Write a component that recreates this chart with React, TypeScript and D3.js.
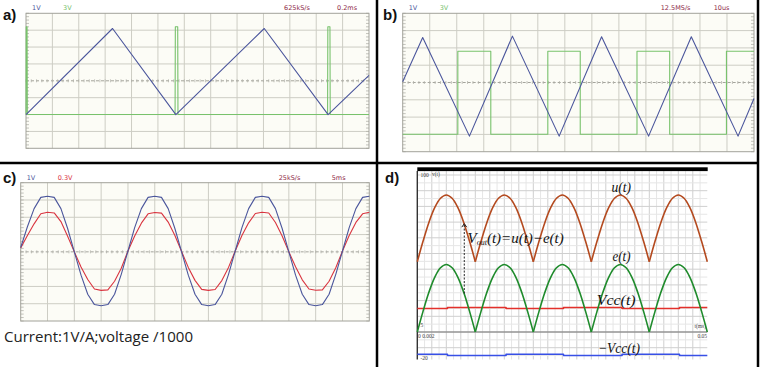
import React, { useEffect, useRef } from 'react';
import * as d3 from 'd3';

// all scope traces are in screen divisions: 13 across, 8 high (0 = trace ground)

// a) triangle on ch1 (1V/div), sync pulses on ch2 (3V/div)
const aTriT = [0, 3.28, 5.68, 9.03, 11.45, 13];
const aTriV = [0, 5.1, 0, 5.1, 0, 2.32];
const aPulseT = [0, 0.01, 0.04, 0.05, 5.65, 5.66, 5.75, 5.76, 11.43, 11.44, 11.52, 11.53, 13];
const aPulseV = [0, 5.2, 5.2, 0, 0, 5.2, 5.2, 0, 0, 5.2, 5.2, 0, 0];
const aHead = ['1V', '3V', '625kS/s', '0.2ms'];

// b) triangle + comparator square wave
const bTriT = [0, 0.74, 2.47, 4.06, 5.79, 7.36, 9.1, 10.68, 12.41, 13];
const bTriV = [0.04, 2.6, -3.1, 2.68, -3.1, 2.64, -3.1, 2.64, -3.1, -0.92];
const bSqT = [0, 2.04, 3.26, 5.37, 6.57, 8.67, 9.88, 11.98, 13];
const bSqV = [-2.99, 1.81, -2.99, 1.81, -2.99, 1.81, -2.99, 1.81, 1.81];
const bHead = ['1V', '3V', '12.5MS/s', '10us'];

// c) current (blue) and voltage (red), sampled every 0.25 div
const cStep = 0.25;
const cBlue = [
  0.25, 1.45, 2.5, 3.15, 3.22, 3.15, 2.5, 1.35, 0.0, -1.35, -2.45, -3.05, -3.12, -3.05, -2.45, -1.3,
  0.05, 1.4, 2.5, 3.15, 3.22, 3.15, 2.5, 1.35, 0.0, -1.35, -2.45, -3.05, -3.12, -3.05, -2.45, -1.3,
  0.05, 1.4, 2.5, 3.15, 3.22, 3.15, 2.5, 1.35, 0.0, -1.35, -2.45, -3.05, -3.12, -3.05, -2.45, -1.3,
  0.05, 1.4, 2.5, 3.15, 3.22,
];
const cRed = [
  0.22, 0.95, 1.62, 2.2, 2.29, 2.25, 1.75, 0.9, 0.0, -0.88, -1.6, -2.15, -2.23, -2.2, -1.7, -0.95,
  0.05, 0.92, 1.66, 2.2, 2.28, 2.24, 1.72, 0.95, 0.02, -0.9, -1.65, -2.17, -2.23, -2.18, -1.66, -0.9,
  0.05, 0.95, 1.68, 2.22, 2.29, 2.25, 1.7, 0.92, 0.0, -0.86, -1.62, -2.15, -2.22, -2.2, -1.7, -0.92,
  0.05, 0.95, 1.7, 2.2, 2.29,
];
const cHead = ['1V', '0.3V', '25kS/s', '5ms'];

// d) simulation: u(t), e(t), Vcc(t), -Vcc(t); t in s, sampled every 1 ms
const dStep = 0.001;
const dE = [
  0, 13.3, 25.3, 34.8, 40.9, 43, 40.9, 34.8, 25.3, 13.3,
  0, 13.3, 25.3, 34.8, 40.9, 43, 40.9, 34.8, 25.3, 13.3,
  0, 13.3, 25.3, 34.8, 40.9, 43, 40.9, 34.8, 25.3, 13.3,
  0, 13.3, 25.3, 34.8, 40.9, 43, 40.9, 34.8, 25.3, 13.3,
  0, 13.3, 25.3, 34.8, 40.9, 43, 40.9, 34.8, 25.3, 13.3,
  0,
];
const dU = [
  44.8, 57.9, 69.8, 79.2, 85.2, 87.3, 85.2, 79.2, 69.8, 57.9,
  44.8, 57.9, 69.8, 79.2, 85.2, 87.3, 85.2, 79.2, 69.8, 57.9,
  44.8, 57.9, 69.8, 79.2, 85.2, 87.3, 85.2, 79.2, 69.8, 57.9,
  44.8, 57.9, 69.8, 79.2, 85.2, 87.3, 85.2, 79.2, 69.8, 57.9,
  44.8, 57.9, 69.8, 79.2, 85.2, 87.3, 85.2, 79.2, 69.8, 57.9,
  44.8,
];
const dVccT = [0, 0.0052, 0.0153, 0.0252, 0.0353, 0.0452, 0.05];
const dVccV = [15.0, 15.6, 15.0, 15.6, 15.0, 15.6, 15.6];
const dNegT = [0, 0.0052, 0.0153, 0.0252, 0.0353, 0.0452, 0.05];
const dNegV = [-14.2, -15.0, -14.2, -15.0, -14.2, -15.0, -15.0];
const dArrow = { t: 0.0081, from: 24.5, to: 69 };

const BLUE = '#4b569c';
const GREEN = '#78c26c';
const RED = '#d9343f';
const HEAD_RED = '#8e2a48';

type Box = { x0: number; x1: number; y0: number; y1: number; lo: number };

function drawScope(root: any, b: Box, head: string[], headCols: string[], headY: number) {
  const g = root.append('g');
  const x = d3.scaleLinear().domain([0, 13]).range([b.x0, b.x1]);
  const y = d3.scaleLinear().domain([b.lo, b.lo + 8]).range([b.y1, b.y0]);
  g.append('rect')
    .attr('x', b.x0).attr('y', b.y0)
    .attr('width', b.x1 - b.x0).attr('height', b.y1 - b.y0)
    .attr('fill', '#fcfcf6');
  d3.range(1, 13).forEach(i => {
    g.append('line')
      .attr('x1', x(i)).attr('x2', x(i)).attr('y1', b.y0).attr('y2', b.y1)
      .attr('stroke', '#cdcdc4').attr('stroke-width', 1);
  });
  d3.range(1, 8).forEach(j => {
    const v = b.lo + j;
    const mid = j === 4;
    g.append('line')
      .attr('x1', b.x0).attr('x2', b.x1).attr('y1', y(v)).attr('y2', y(v))
      .attr('stroke', mid ? '#a4a49c' : '#cdcdc4').attr('stroke-width', 1)
      .attr('stroke-dasharray', mid ? '3,2' : null);
  });
  // minor ticks along the centre line and the side edges
  const yc = y(b.lo + 4);
  d3.range(0, 13 * 5 + 1).forEach(k => {
    g.append('line')
      .attr('x1', x(k / 5)).attr('x2', x(k / 5)).attr('y1', yc - 1.5).attr('y2', yc + 1.5)
      .attr('stroke', '#b4b4ac').attr('stroke-width', 0.8);
  });
  d3.range(0, 8 * 5 + 1).forEach(k => {
    const yy = y(b.lo + k / 5);
    g.append('line').attr('x1', b.x0).attr('x2', b.x0 + 3).attr('y1', yy).attr('y2', yy)
      .attr('stroke', '#b4b4ac').attr('stroke-width', 0.8);
    g.append('line').attr('x1', b.x1 - 3).attr('x2', b.x1).attr('y1', yy).attr('y2', yy)
      .attr('stroke', '#b4b4ac').attr('stroke-width', 0.8);
  });
  g.append('rect')
    .attr('x', b.x0).attr('y', b.y0)
    .attr('width', b.x1 - b.x0).attr('height', b.y1 - b.y0)
    .attr('fill', 'none').attr('stroke', '#a2a29a').attr('stroke-width', 1);

  const hx = [b.x0 + 6, b.x0 + 37, b.x0 + 258, b.x0 + 311];
  head.forEach((t, i) => {
    g.append('text')
      .attr('x', hx[i]).attr('y', headY)
      .attr('font-family', 'DejaVu Sans, sans-serif').attr('font-size', 6.5)
      .attr('fill', headCols[i]).text(t);
  });
  return { x, y, g };
}

function trace(g: any, x: any, y: any, ts: number[], vs: number[], color: string, curve: any = d3.curveLinear, w = 1.1) {
  const pts = ts.map((t, i) => [t, vs[i]] as [number, number]);
  const line = d3.line<[number, number]>().x(d => x(d[0])).y(d => y(d[1])).curve(curve);
  g.append('path').attr('d', line(pts)).attr('fill', 'none')
    .attr('stroke', color).attr('stroke-width', w).attr('stroke-linejoin', 'round');
}

export default function App() {
  const svgRef = useRef<SVGSVGElement>(null);

  useEffect(() => {
    if (!svgRef.current) return;
    const svg = d3.select(svgRef.current);
    svg.selectAll('*').remove();

    svg.append('rect').attr('width', 765).attr('height', 367).attr('fill', '#fff');

    // ---- a)
    const A = drawScope(svg, { x0: 26, x1: 369, y0: 13.3, y1: 148.3, lo: -2 }, aHead, [BLUE, GREEN, HEAD_RED, HEAD_RED], 9.5);
    trace(A.g, A.x, A.y, aPulseT, aPulseV, GREEN);
    trace(A.g, A.x, A.y, aTriT, aTriV, BLUE);

    // ---- b)
    const B = drawScope(svg, { x0: 402.7, x1: 754, y0: 13.3, y1: 151.7, lo: -4 }, bHead, [BLUE, GREEN, HEAD_RED, HEAD_RED], 9.5);
    trace(B.g, B.x, B.y, bSqT, bSqV, GREEN, d3.curveStepAfter);
    trace(B.g, B.x, B.y, bTriT, bTriV, BLUE);

    // ---- c)
    const C = drawScope(svg, { x0: 20.7, x1: 369.3, y0: 182.7, y1: 321, lo: -4 }, cHead, [BLUE, RED, HEAD_RED, HEAD_RED], 180);
    const cT = cBlue.map((_, i) => i * cStep);
    trace(C.g, C.x, C.y, cT, cRed, RED);
    trace(C.g, C.x, C.y, cT, cBlue, BLUE);
    svg.append('text')
      .attr('x', 4).attr('y', 342)
      .attr('font-family', 'Open Sans, DejaVu Sans, sans-serif').attr('font-size', 15)
      .attr('textLength', 189).attr('lengthAdjust', 'spacingAndGlyphs')
      .attr('fill', '#222').text('Current:1V/A;voltage /1000');

    // ---- d)
    const xD = d3.scaleLinear().domain([0, 0.05]).range([417.3, 707.3]);
    const yD = d3.scaleLinear().domain([0, 100]).range([332, 175]);
    const gd = svg.append('g');
    const top = 171, bot = 359.5;
    gd.append('rect').attr('x', 417.3).attr('y', top).attr('width', 290).attr('height', bot - top).attr('fill', '#fff');
    d3.range(1, 40).forEach(i => {
      const xx = xD(i * 0.00125);
      gd.append('line').attr('x1', xx).attr('x2', xx).attr('y1', top).attr('y2', bot)
        .attr('stroke', i % 2 ? '#e6e6e6' : '#cfcfcf').attr('stroke-width', 1);
    });
    d3.range(-25, 105, 5).forEach(v => {
      const yy = yD(v);
      if (yy < top || yy > bot) return;
      gd.append('line').attr('x1', 417.3).attr('x2', 707.3).attr('y1', yy).attr('y2', yy)
        .attr('stroke', v % 10 ? '#e6e6e6' : '#cfcfcf').attr('stroke-width', 1);
    });
    gd.append('line').attr('x1', 417.3).attr('x2', 707.3).attr('y1', yD(0)).attr('y2', yD(0))
      .attr('stroke', '#777').attr('stroke-width', 1.2);
    gd.append('line').attr('x1', 417.3).attr('x2', 417.3).attr('y1', top).attr('y2', bot)
      .attr('stroke', '#333').attr('stroke-width', 1.4);
    gd.append('rect').attr('x', 417.3).attr('y', 167.3).attr('width', 290.4).attr('height', 3.8).attr('fill', '#000');

    const tiny = (t: string, x: number, y: number, anchor = 'start') =>
      gd.append('text').attr('x', x).attr('y', y).attr('text-anchor', anchor)
        .attr('font-family', 'Liberation Serif, serif').attr('font-size', 5.5).attr('fill', '#444').text(t);
    tiny('100', 420.5, 177);
    tiny('v(t)', 432, 176);
    tiny('5', 420.5, 327);
    tiny('0 0.002', 418, 337.5);
    tiny('0.05', 707, 337.5, 'end');
    tiny('t(ms)', 706, 328, 'end');
    tiny('-20', 420.5, 360);

    const dT = dE.map((_, i) => i * dStep);
    // draw each rectified half-wave separately so the cusps stay sharp
    const humps = (vals: number[], color: string) => {
      for (let h = 0; h * 10 < vals.length - 1; h++) {
        trace(gd, xD, yD, dT.slice(h * 10, h * 10 + 11), vals.slice(h * 10, h * 10 + 11), color, d3.curveCatmullRom, 1.6);
      }
    };
    trace(gd, xD, yD, dVccT, dVccV, '#e3302b', d3.curveStepAfter, 1.6);
    trace(gd, xD, yD, dNegT, dNegV, '#3850e6', d3.curveStepAfter, 1.6);
    humps(dU, '#b44a1f');
    humps(dE, '#1f8b2c');

    // dashed arrow from e(t) up to u(t)
    const ax = xD(dArrow.t);
    gd.append('line').attr('x1', ax).attr('x2', ax).attr('y1', yD(dArrow.from)).attr('y2', yD(dArrow.to) + 1)
      .attr('stroke', '#222').attr('stroke-width', 1).attr('stroke-dasharray', '2,1.5');
    gd.append('path')
      .attr('d', `M${ax - 2.5},${yD(dArrow.to) + 3.5} L${ax},${yD(dArrow.to)} L${ax + 2.5},${yD(dArrow.to) + 3.5}`)
      .attr('fill', 'none').attr('stroke', '#222').attr('stroke-width', 1);

    const big = (x: number, y: number, len: number) =>
      gd.append('text').attr('x', x).attr('y', y)
        .attr('font-family', 'Liberation Serif, serif').attr('font-style', 'italic').attr('font-size', 15)
        .attr('textLength', len).attr('lengthAdjust', 'spacingAndGlyphs').attr('fill', '#111');
    big(611.5, 191.5, 19.5).text('u(t)');
    big(612.5, 261, 18).text('e(t)');
    big(596.7, 305, 39).text('Vcc(t)');
    big(598, 353, 42).text('\u2212Vcc(t)');
    const vo = gd.append('text').attr('x', 467.5).attr('y', 243)
      .attr('font-family', 'Liberation Serif, serif').attr('font-style', 'italic').attr('font-size', 15).attr('fill', '#111');
    vo.append('tspan').text('V');
    vo.append('tspan').attr('font-size', 8).attr('dy', 2).text('out');
    vo.append('tspan').attr('dy', -2).text('(t)=u(t)\u2212e(t)');

    // ---- frame and panel letters
    const frame = svg.append('g').attr('stroke', '#000').attr('stroke-width', 2.5);
    frame.append('line').attr('x1', 0).attr('x2', 759).attr('y1', 163).attr('y2', 163);
    frame.append('line').attr('x1', 377).attr('x2', 377).attr('y1', 0).attr('y2', 367);
    frame.append('line').attr('x1', 758).attr('x2', 758).attr('y1', 0).attr('y2', 367);
    [['a)', 3, 20], ['b)', 383, 20], ['c)', 3, 183], ['d)', 385, 183]].forEach(([t, x, y]) => {
      svg.append('text').attr('x', x as number).attr('y', y as number)
        .attr('font-family', 'Liberation Sans, Arial, sans-serif').attr('font-weight', 'bold')
        .attr('font-size', 15).attr('fill', '#111').text(t as string);
    });
  }, []);

  return (
    <div style={{ position: 'absolute', left: 0, top: 0 }}>
      <svg ref={svgRef} width={765} height={367} style={{ display: 'block' }} />
    </div>
  );
}
